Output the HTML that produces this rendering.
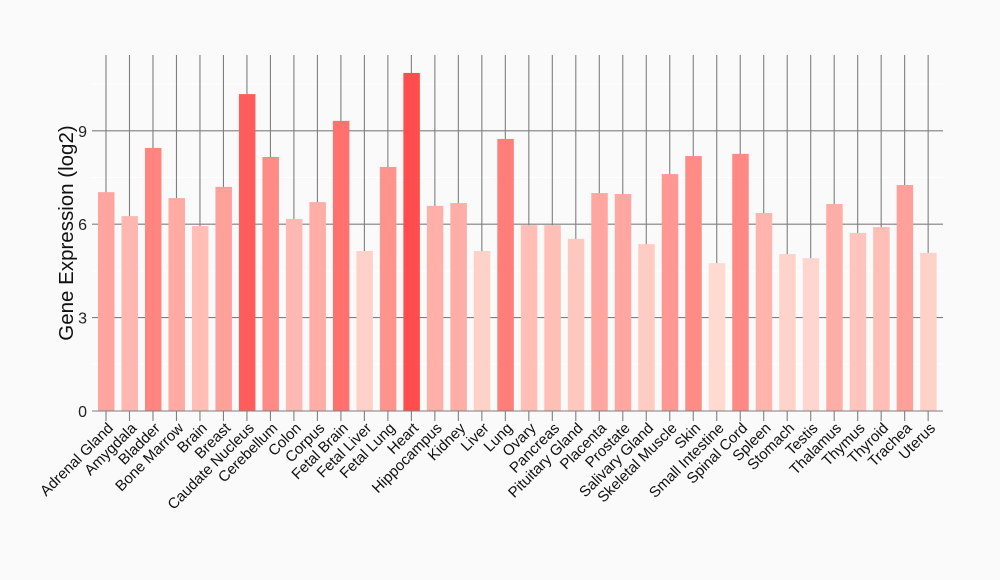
<!DOCTYPE html>
<html><head><meta charset="utf-8"><style>
html,body{margin:0;padding:0;background:#fafafa;}
svg{display:block;font-family:"Liberation Sans",Arial,sans-serif;}
</style></head><body>
<svg id="c" width="1000" height="580" viewBox="0 0 1000 580"></svg>
<script>
(function(){
var names=["Adrenal Gland","Amygdala","Bladder","Bone Marrow","Brain","Breast","Caudate Nucleus","Cerebellum","Colon","Corpus","Fetal Brain","Fetal Liver","Fetal Lung","Heart","Hippocampus","Kidney","Liver","Lung","Ovary","Pancreas","Pituitary Gland","Placenta","Prostate","Salivary Gland","Skeletal Muscle","Skin","Small Intestine","Spinal Cord","Spleen","Stomach","Testis","Thalamus","Thymus","Thyroid","Trachea","Uterus"];
var vals=[7.03,6.26,8.45,6.84,5.94,7.2,10.18,8.16,6.17,6.71,9.32,5.14,7.84,10.86,6.59,6.68,5.14,8.74,5.97,5.97,5.53,7.0,6.97,5.36,7.61,8.19,4.75,8.26,6.36,5.04,4.91,6.65,5.72,5.91,7.26,5.08];
var y0=411,k=31.13,x0=92,x1=943,ptop=55;
var s='';
function Y(v){return y0-v*k;}
function cx(i){return 106+i*23.49;}
[1.5,4.5,7.5,10.5].forEach(function(v){s+='<line x1="'+x0+'" x2="'+x1+'" y1="'+Y(v)+'" y2="'+Y(v)+'" stroke="#fff" stroke-width="1"/>';});
[3,6,9].forEach(function(v){s+='<line x1="'+x0+'" x2="'+x1+'" y1="'+Y(v)+'" y2="'+Y(v)+'" stroke="#7f7f7f" stroke-width="1.1"/>';});
names.forEach(function(n,i){s+='<line x1="'+cx(i)+'" x2="'+cx(i)+'" y1="'+ptop+'" y2="'+(y0+10)+'" stroke="#7f7f7f" stroke-width="1.1"/>';});
var mn=4.75,mx=10.86;
vals.forEach(function(v,i){var t=(v-mn)/(mx-mn);var g=Math.round(218-t*141),b=Math.round(208-t*131);
s+='<rect x="'+(cx(i)-8)+'" y="'+Y(v)+'" width="16.5" height="'+(v*k)+'" fill="rgb(255,'+g+','+b+')"/>';});
s+='<line x1="'+x0+'" x2="'+x1+'" y1="'+y0+'" y2="'+y0+'" stroke="#7f7f7f" stroke-width="1.1"/>';
[0,3,6,9].forEach(function(v){s+='<text x="87" y="'+(Y(v)+6)+'" text-anchor="end" font-size="16" fill="#222">'+v+'</text>';});
names.forEach(function(n,i){var x=cx(i)+8,y=429;s+='<text x="'+x+'" y="'+y+'" text-anchor="end" font-size="15" fill="#111" transform="rotate(-45 '+x+' '+y+')">'+n+'</text>';});
s+='<text x="73" y="233" text-anchor="middle" font-size="20.5" fill="#111" transform="rotate(-90 73 233)">Gene Expression (log2)</text>';
document.getElementById('c').innerHTML=s;
})();
</script>
</body></html>
